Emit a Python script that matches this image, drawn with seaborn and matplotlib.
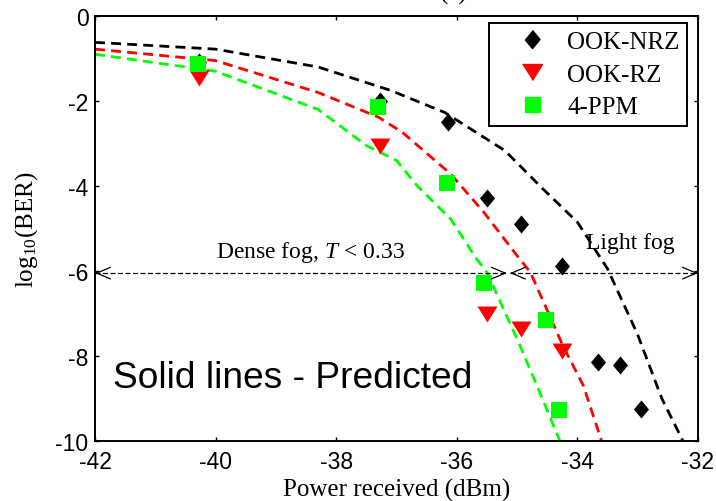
import numpy as np
import pandas as pd
import matplotlib
matplotlib.use("Agg")
import matplotlib.pyplot as plt
from matplotlib.lines import Line2D
import seaborn as sns

# ---------------- data ----------------
series_names = ["OOK-NRZ", "OOK-RZ", "4-PPM"]

# predicted (dashed) curves
nrz_line_x = [-42, -40, -38.3, -37.1, -36.2, -35.2, -34.6, -34.0, -33.5, -33.0, -32.6, -32.25]
nrz_line_y = [-0.62, -0.78, -1.2, -1.75, -2.27, -3.17, -4.03, -4.85, -5.95, -7.5, -9.0, -10.0]
rz_line_x = [-42, -40, -38.3, -37.3, -36.9, -36.1, -35.55, -35.0, -34.78, -34.24, -33.9, -33.6]
rz_line_y = [-0.78, -1.05, -1.8, -2.38, -2.74, -3.72, -4.62, -5.64, -6.03, -7.76, -8.7, -10.0]
ppm_line_x = [-42, -40, -38.3, -37.5, -37.0, -36.66, -36.1, -35.67, -35.5, -35.0, -34.67, -34.29]
ppm_line_y = [-0.9, -1.3, -2.2, -3.05, -3.4, -3.99, -4.78, -5.72, -6.03, -7.6, -8.7, -10.0]

# measured points
nrz_x = [-40.27, -37.27, -36.15, -35.5, -34.94, -34.25, -33.66, -33.3, -32.95]
nrz_y = [-1.08, -2.0, -2.5, -4.28, -4.9, -5.88, -8.14, -8.2, -9.25]
rz_x = [-40.27, -37.27, -35.5, -34.94, -34.25]
rz_y = [-1.45, -3.05, -7.0, -7.36, -7.88]
ppm_x = [-40.3, -37.3, -36.16, -35.55, -34.52, -34.3]
ppm_y = [-1.13, -2.15, -3.92, -6.28, -7.15, -9.27]

x_ticks = [-42, -40, -38, -36, -34, -32]
y_ticks = [0, -2, -4, -6, -8, -10]

# ---------------- style ----------------
plt.rcParams["mathtext.fontset"] = "custom"
plt.rcParams["mathtext.rm"] = "Liberation Serif"
plt.rcParams["mathtext.it"] = "Liberation Serif:italic"
plt.rcParams["mathtext.bf"] = "Liberation Serif:bold"

colors = {"OOK-NRZ": "#000000", "OOK-RZ": "#ff0000", "4-PPM": "#00ff00"}
diamond = [(0, 1), (0.83, 0), (0, -1), (-0.83, 0)]
tri_down = [(-1, 0.8), (1, 0.8), (0, -0.8)]
markers = {"OOK-NRZ": diamond, "OOK-RZ": tri_down, "4-PPM": "s"}
msizes = {"OOK-NRZ": 170, "OOK-RZ": 207, "4-PPM": 117}

serif = "Liberation Serif"
sans = "Liberation Sans"

fig = plt.figure(figsize=(7.16, 5.02), dpi=100)
ax = fig.add_axes([95 / 716, 1 - 442 / 502, (698 - 95) / 716, (442 - 17) / 502])

lines_df = pd.concat([
    pd.DataFrame({"x": nrz_line_x, "y": nrz_line_y, "s": "OOK-NRZ"}),
    pd.DataFrame({"x": rz_line_x, "y": rz_line_y, "s": "OOK-RZ"}),
    pd.DataFrame({"x": ppm_line_x, "y": ppm_line_y, "s": "4-PPM"}),
])
pts_df = {
    "OOK-NRZ": pd.DataFrame({"x": nrz_x, "y": nrz_y}),
    "OOK-RZ": pd.DataFrame({"x": rz_x, "y": rz_y}),
    "4-PPM": pd.DataFrame({"x": ppm_x, "y": ppm_y}),
}

for name in series_names:
    d = lines_df[lines_df["s"] == name]
    sns.lineplot(data=d, x="x", y="y", ax=ax, color=colors[name], lw=2.0,
                 dashes=False, sort=False, estimator=None, legend=False,
                 linestyle=(0, (3.6, 2.2)), zorder=2)

# draw order: black diamonds, red triangles, green squares (green on top)
for name in ["OOK-NRZ", "OOK-RZ", "4-PPM"]:
    sns.scatterplot(data=pts_df[name], x="x", y="y", ax=ax, marker=markers[name],
                    s=msizes[name], color=colors[name], edgecolor=colors[name],
                    linewidth=0, legend=False, zorder=3)

# arrows (dashed shafts with open heads)
arrow_y = -6.05
seg1 = (-42.0, -35.17)
seg2 = (-35.12, -32.0)
for a, b in (seg1, seg2):
    ax.plot([a, b], [arrow_y, arrow_y], color="k", lw=0.9, linestyle=(0, (4, 2)),
            zorder=4, clip_on=False)
    hs = "->,head_length=1.0,head_width=0.42"
    ax.annotate("", xy=(a, arrow_y), xytext=(a + 0.05, arrow_y),
                arrowprops=dict(arrowstyle=hs, lw=0.9, color="k", shrinkA=0, shrinkB=0),
                annotation_clip=False, fontsize=10)
    ax.annotate("", xy=(b, arrow_y), xytext=(b - 0.05, arrow_y),
                arrowprops=dict(arrowstyle=hs, lw=0.9, color="k", shrinkA=0, shrinkB=0),
                annotation_clip=False, fontsize=10)

ax.text(-38.42, -5.55, "Dense fog, $T$ < 0.33", fontsize=17, family=serif,
        ha="center", va="center")
ax.text(-33.13, -5.32, "Light fog", fontsize=17, family=serif,
        ha="center", va="center")
ax.text(-41.7, -8.73, "Solid lines - Predicted", fontsize=26.7, family=sans,
        ha="left", va="baseline")

ax.set_xlim(-42, -32)
ax.set_ylim(-10, 0)
ax.set_xticks(x_ticks)
ax.set_yticks(y_ticks)
ax.set_xticklabels([str(v) for v in x_ticks], family=sans, fontsize=16.5)
ax.set_yticklabels([str(v) for v in y_ticks], family=sans, fontsize=16.5)
ax.tick_params(axis="both", direction="in", length=3, width=1, top=True, right=True)
ax.tick_params(axis="x", pad=6.5)
ax.tick_params(axis="y", pad=4.7)
for sp in ax.spines.values():
    sp.set_linewidth(1.4)
    sp.set_visible(True)
    sp.set_color("k")

ax.set_xlabel("Power received (dBm)", family=serif, fontsize=18, labelpad=3.3)
ax.set_ylabel("log$_{10}$(BER)", family=serif, fontsize=18, labelpad=11)

handles = [
    Line2D([], [], linestyle="none", marker=diamond, markersize=13, color="k"),
    Line2D([], [], linestyle="none", marker=tri_down, markersize=14.4, color="#ff0000"),
    Line2D([], [], linestyle="none", marker="s", markersize=10.8, color="#00ff00"),
]
leg = ax.legend(handles, series_names, loc="upper right",
                bbox_to_anchor=((687 - 95) / 603, 1 - (24 - 17) / 425),
                prop={"family": serif, "size": 18},
                frameon=True, fancybox=False, edgecolor="k", framealpha=1,
                borderaxespad=0, handlelength=2.84, handletextpad=0.0,
                labelspacing=0.4, borderpad=0.3)
leg.get_frame().set_linewidth(1.4)

fig.text(454 / 716, 1.0, "(a)", family=serif, fontsize=18, ha="center", va="baseline")

fig.savefig("out.png", dpi=100)
